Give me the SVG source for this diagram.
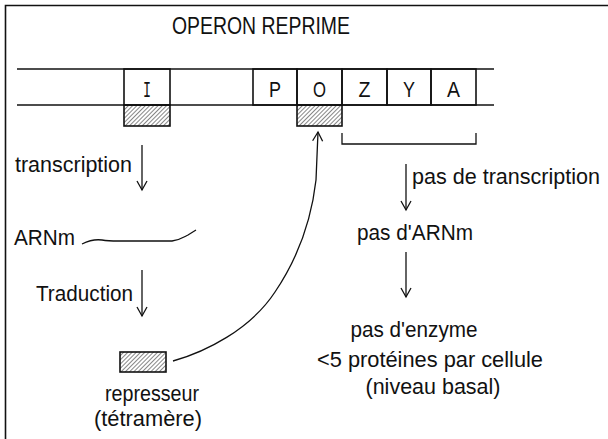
<svg xmlns="http://www.w3.org/2000/svg" width="608" height="439" viewBox="0 0 608 439">
<style>
text{font-family:"Liberation Sans",Arial,sans-serif;font-size:22px;fill:#111}
.ln{stroke:#111;stroke-width:1.6;fill:none}
.thin{stroke:#111;stroke-width:1.3;fill:none}
.box{fill:none;stroke:#111;stroke-width:1.6}
.hat{fill:url(#hatch);stroke:#111;stroke-width:1.6}
.mid{text-anchor:middle}
</style>
<defs>
<pattern id="hatch" patternUnits="userSpaceOnUse" width="3" height="3" patternTransform="rotate(45)">
<line x1="0" y1="0" x2="0" y2="3" stroke="#222" stroke-width="1.1"/>
</pattern>
<marker id="ah" markerUnits="userSpaceOnUse" markerWidth="14" markerHeight="14" viewBox="-11 -7 14 14" refX="0" refY="0" orient="auto">
<path d="M-9,-5 L0,0 L-9,5" fill="none" stroke="#111" stroke-width="1.3"/>
</marker>
</defs>
<rect width="608" height="439" fill="#fff"/>
<g id="frame"><path d="M5.5,439 V5.5 H608" class="ln" stroke-width="2"/></g>
<g id="title"><text x="172" y="34" style="font-size:23px" textLength="178" lengthAdjust="spacingAndGlyphs">OPERON REPRIME</text></g>
<g id="dna">
<line x1="17" y1="69" x2="494" y2="69" class="ln"/>
<line x1="17" y1="105" x2="494" y2="105" class="ln"/>
</g>
<g id="gene-I"><rect x="124" y="69" width="46" height="36" class="box"/><text x="147" y="97" class="mid" style="font-family:'Liberation Mono',monospace" textLength="8" lengthAdjust="spacingAndGlyphs">I</text></g>
<g id="gene-P"><rect x="253" y="69" width="44" height="36" class="box"/><text x="275" y="97" class="mid" textLength="12" lengthAdjust="spacingAndGlyphs">P</text></g>
<g id="gene-O"><rect x="297" y="69" width="45" height="36" class="box"/><text x="319.5" y="97" class="mid" textLength="13" lengthAdjust="spacingAndGlyphs">O</text></g>
<g id="gene-Z"><rect x="342" y="69" width="45" height="36" class="box"/><text x="364.5" y="97" class="mid" textLength="12" lengthAdjust="spacingAndGlyphs">Z</text></g>
<g id="gene-Y"><rect x="387" y="69" width="44" height="36" class="box"/><text x="409" y="97" class="mid" textLength="12" lengthAdjust="spacingAndGlyphs">Y</text></g>
<g id="gene-A"><rect x="431" y="69" width="45" height="36" class="box"/><text x="453.5" y="97" class="mid" textLength="13" lengthAdjust="spacingAndGlyphs">A</text></g>
<g id="hatch-I"><rect x="124" y="105" width="46" height="21" class="hat"/></g>
<g id="hatch-O"><rect x="297" y="105" width="45" height="21" class="hat"/></g>
<g id="bracket"><path d="M342,133 V144 H476 V133" class="thin"/></g>
<g id="label-transcription"><text x="15" y="172" textLength="117" lengthAdjust="spacingAndGlyphs">transcription</text></g>
<g id="label-ARNm"><text x="14" y="245" textLength="61" lengthAdjust="spacingAndGlyphs">ARNm</text></g>
<g id="mrna"><path d="M82,244 C88,241 95,239 102,240 C108,241 112,241 118,241 L172,241 C180,240 184,237 188,235 L196,230" class="thin"/></g>
<g id="label-traduction"><text x="36" y="301" textLength="97" lengthAdjust="spacingAndGlyphs">Traduction</text></g>
<g id="repressor"><rect x="120" y="352" width="46" height="20" class="hat"/>
<text x="152" y="401" class="mid" textLength="94" lengthAdjust="spacingAndGlyphs">represseur</text>
<text x="148" y="426" class="mid" textLength="108" lengthAdjust="spacingAndGlyphs">(tétramère)</text></g>
<g id="label-pas-transcription"><text x="412" y="184" textLength="188" lengthAdjust="spacingAndGlyphs">pas de transcription</text></g>
<g id="label-pas-arnm"><text x="357" y="240" textLength="116" lengthAdjust="spacingAndGlyphs">pas d'ARNm</text></g>
<g id="label-result">
<text x="414" y="337" class="mid" textLength="127" lengthAdjust="spacingAndGlyphs">pas d'enzyme</text>
<text x="430" y="367" class="mid" textLength="226" lengthAdjust="spacingAndGlyphs">&lt;5 protéines par cellule</text>
<text x="433" y="394" class="mid" textLength="135" lengthAdjust="spacingAndGlyphs">(niveau basal)</text>
</g>
<g id="connectors">
<line x1="142" y1="145" x2="142" y2="190" class="thin" marker-end="url(#ah)"/>
<line x1="142" y1="270" x2="142" y2="316" class="thin" marker-end="url(#ah)"/>
<line x1="406" y1="164" x2="406" y2="210" class="thin" marker-end="url(#ah)"/>
<line x1="406" y1="252" x2="406" y2="297" class="thin" marker-end="url(#ah)"/>
<path d="M173,361 C205,352 250,330 275,292 C300,255 312,215 316,180 L318,132" class="thin" marker-end="url(#ah)"/>
</g>
</svg>
